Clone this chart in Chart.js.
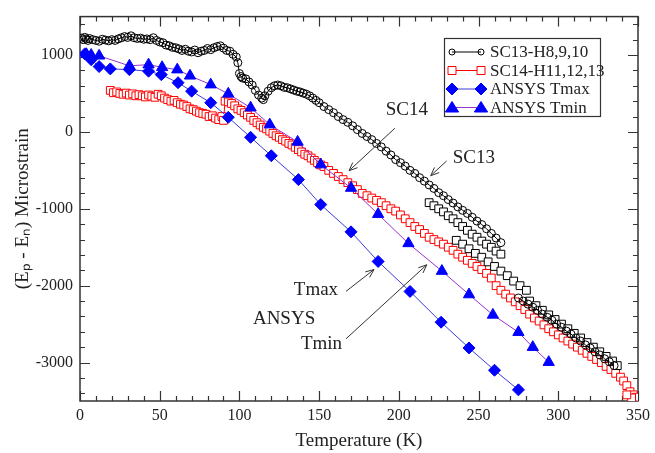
<!DOCTYPE html>
<html lang="en">
<head>
<meta charset="UTF-8">
<title>Strain vs temperature</title>
<script src="https://cdn.jsdelivr.net/npm/chart.js@4"></script>
<style>
  html, body { margin: 0; padding: 0; background: #fff; }
  #wrap { width: 655px; height: 453px; }
</style>
</head>
<body>
<div id="wrap"><canvas id="myChart" width="655" height="453"></canvas></div>
<script>
// ---- data ----
var xTicks = [0, 50, 100, 150, 200, 250, 300, 350];
var yTicks = [-3000, -2000, -1000, 0, 1000];

// SC13-H8,9,10 (open circles), null = gap between sensor runs
var sc13T = [1,2,3,4,5,6,8,10,12,14,16,18,20,22,24,26,28,30,32,34,36,38,40,42,44,46,48,50,52,54,56,58,60,62,64,66,68,70,72,74,76,78,80,82,84,86,88,90,92,94,96,98,
  99,100,101,102,104,106,108,110,112,114,115,116,118,120,122,124,126,128,130,132,134,136,138,140,142,144,146,148,
  150,153,156,159,162,165,168,171,174,177,180,183,186,189,192,195,198,201,204,207,210,213,216,219,222,225,228,231,234,237,240,243,246,249,252,255,258,261,264,
  null,
  275,278,281,284,287,290,293,296,299,302,305,308,311,314,317,320,323,326,329,332,335];
var sc13V = [1220,1200,1230,1210,1190,1215,1200,1190,1180,1205,1195,1185,1200,1190,1210,1225,1240,1230,1250,1225,1215,1220,1205,1210,1200,1225,1190,1170,1160,1130,1120,1100,1095,1080,1060,1075,1050,1040,1065,1030,1050,1060,1085,1070,1095,1110,1120,1090,1060,1050,1010,975,
  900,760,720,700,690,650,610,540,480,440,420,470,530,575,600,610,600,580,575,560,545,530,520,505,490,470,440,410,
  380,330,290,250,200,160,125,80,30,-20,-60,-100,-150,-195,-250,-300,-360,-400,-445,-500,-540,-595,-640,-690,-735,-790,-830,-880,-925,-975,-1020,-1060,-1110,-1160,-1205,-1260,-1320,-1380,-1440,
  null,
  -2160,-2200,-2240,-2280,-2320,-2370,-2410,-2450,-2500,-2540,-2590,-2630,-2680,-2720,-2770,-2810,-2860,-2900,-2950,-2990,-3040];

// black open squares (not in the legend)
var sqT = [219,222,225,228,231,234,237,240,243,246,249,252,255,258,261,264,
  null,
  236,240,244,248,252,256,260,264,268,272,276,280,
  null,
  282,286,290,294,298,302,306,310,314,318,322,326,330,334,337];
var sqV = [-920,-960,-1000,-1040,-1090,-1130,-1180,-1230,-1280,-1330,-1370,-1420,-1460,-1500,-1550,-1590,
  null,
  -1410,-1460,-1520,-1580,-1630,-1690,-1750,-1810,-1870,-1940,-2000,-2060,
  null,
  -2200,-2260,-2320,-2380,-2440,-2500,-2560,-2620,-2680,-2740,-2800,-2860,-2920,-2980,-3040];

// SC14-H11,12,13 (open squares)
var sc14T = [19,21,23,25,27,29,31,33,35,37,39,41,43,45,47,49,51,53,55,57,59,61,63,65,67,69,71,73,75,77,79,81,83,85,87,89,90,
  91,93,95,97,99,101,103,105,107,109,111,113,115,117,119,121,123,125,127,129,131,133,135,137,139,141,143,145,147,149,151,153,156,159,162,165,168,171,174,177,180,183,186,189,192,195,198,201,204,207,210,213,216,219,222,225,228,231,234,237,240,243,246,249,252,255,258,261,264,267,270,273,276,279,282,285,288,291,294,297,300,303,306,309,312,315,318,321,324,327,330,333,336,339,341,343,345,347,349,346,343];
var sc14V = [540,510,520,500,490,505,480,495,470,485,470,455,480,465,450,490,470,440,420,400,410,380,360,350,330,300,290,270,250,240,230,200,210,180,160,200,150,
  400,390,370,340,300,280,250,220,190,150,120,90,60,40,10,-20,-50,-70,-100,-120,-150,-170,-200,-230,-260,-290,-310,-340,-370,-400,-430,-450,-500,-540,-580,-620,-660,-700,-750,-800,-830,-860,-890,-920,-960,-1000,-1030,-1080,-1130,-1180,-1230,-1270,-1320,-1370,-1400,-1430,-1460,-1500,-1540,-1590,-1630,-1670,-1710,-1750,-1790,-1840,-1900,-2000,-2060,-2110,-2160,-2210,-2260,-2310,-2370,-2420,-2460,-2510,-2560,-2600,-2640,-2680,-2720,-2760,-2800,-2840,-2880,-2920,-2960,-3000,-3050,-3090,-3140,-3190,-3240,-3300,-3380,-3420,-3450,-3460,-3420];

// ANSYS Tmax (filled diamonds)
var tmaxT = [3,7,12,19,31,43,51,61.5,70,82,93,107,120,137,151,170,187,207,226.5,244,260,275];
var tmaxV = [1015,940,850,820,810,790,745,640,530,380,190,-70,-310,-620,-945,-1300,-1685,-2075,-2475,-2810,-3100,-3355];

// ANSYS Tmin (filled triangles)
var tminT = [4,7,12,31,43,51.5,61,69,82,93,107,119,136.5,151,170,187,206,227,244,259,275,284,294];
var tminV = [1010,1000,990,860,875,840,810,730,615,495,315,95,-130,-425,-730,-1070,-1450,-1810,-2115,-2380,-2605,-2800,-2995];

// text labels and arrows on the plot (data coordinates)
var notes = [
  { text: 'SC14', x: 205, y: 280 },
  { text: 'SC13', x: 247, y: -338 },
  { text: 'Tmax', x: 148, y: -2060 },
  { text: 'ANSYS', x: 128, y: -2433 },
  { text: 'Tmin', x: 151.5, y: -2754 }
];
var arrows = [
  [197.5, 48, 168.75, -505],
  [230, -377, 220, -569],
  [166.9, -2073, 184.4, -1790],
  [166.9, -2690, 217.5, -1728]
];

function pts(xs, ys) {
  var out = [];
  for (var i = 0; i < xs.length; i++) {
    out.push({ x: xs[i], y: ys[i] });
  }
  return out;
}

var serif = '"Liberation Serif", "Times New Roman", serif';
var ink = '#222';

// markers for the hand drawn legend
function marker(ctx, ds, x, y) {
  var r = ds.legendRadius;
  ctx.save();
  ctx.lineWidth = 1;
  ctx.strokeStyle = ds.pointBorderColor;
  ctx.fillStyle = ds.pointBackgroundColor;
  ctx.beginPath();
  if (ds.pointStyle === 'circle') {
    ctx.arc(x, y, r, 0, Math.PI * 2);
  } else if (ds.pointStyle === 'rect') {
    ctx.rect(x - r, y - r, 2 * r, 2 * r);
  } else if (ds.pointStyle === 'rectRot') {
    ctx.moveTo(x, y - r); ctx.lineTo(x + r, y); ctx.lineTo(x, y + r); ctx.lineTo(x - r, y); ctx.closePath();
  } else {
    ctx.moveTo(x, y - r); ctx.lineTo(x + r * 1.1, y + r * 0.75); ctx.lineTo(x - r * 1.1, y + r * 0.75); ctx.closePath();
  }
  ctx.fill();
  ctx.stroke();
  ctx.restore();
}

// frame with inward major/minor ticks on all four sides, legend box, notes
const decor = {
  id: 'decor',
  beforeDatasetsDraw(chart) {
    const ctx = chart.ctx;
    const a = chart.chartArea;
    const xs = chart.scales.x, ys = chart.scales.y;
    ctx.save();
    ctx.strokeStyle = '#333';
    ctx.lineWidth = 1.5;
    ctx.strokeRect(a.left, a.top, a.right - a.left, a.bottom - a.top);
    ctx.lineWidth = 1.2;
    ctx.beginPath();
    for (let v = xs.min; v <= xs.max; v += 10) {
      const px = Math.round(xs.getPixelForValue(v)) + 0.5;
      const len = v % 50 === 0 ? 10 : 5;
      ctx.moveTo(px, a.bottom); ctx.lineTo(px, a.bottom - len);
      ctx.moveTo(px, a.top); ctx.lineTo(px, a.top + len);
    }
    for (let v = -3400; v <= ys.max; v += 200) {
      const py = Math.round(ys.getPixelForValue(v)) + 0.5;
      const len = v % 1000 === 0 ? 10 : 5;
      ctx.moveTo(a.left, py); ctx.lineTo(a.left + len, py);
      ctx.moveTo(a.right, py); ctx.lineTo(a.right - len, py);
    }
    ctx.stroke();
    ctx.restore();
  },
  afterDraw(chart) {
    const ctx = chart.ctx;
    const xs = chart.scales.x, ys = chart.scales.y;
    ctx.save();

    // notes + arrows
    ctx.fillStyle = ink;
    ctx.font = '19px ' + serif;
    ctx.textAlign = 'center';
    ctx.textBaseline = 'middle';
    notes.forEach(function (n) {
      ctx.fillText(n.text, xs.getPixelForValue(n.x), ys.getPixelForValue(n.y));
    });
    ctx.strokeStyle = '#333';
    ctx.lineWidth = 1;
    arrows.forEach(function (ar) {
      const x1 = xs.getPixelForValue(ar[0]), y1 = ys.getPixelForValue(ar[1]);
      const x2 = xs.getPixelForValue(ar[2]), y2 = ys.getPixelForValue(ar[3]);
      const ang = Math.atan2(y2 - y1, x2 - x1);
      ctx.beginPath();
      ctx.moveTo(x1, y1); ctx.lineTo(x2, y2);
      ctx.moveTo(x2 - 9 * Math.cos(ang - 0.4), y2 - 9 * Math.sin(ang - 0.4));
      ctx.lineTo(x2, y2);
      ctx.lineTo(x2 - 9 * Math.cos(ang + 0.4), y2 - 9 * Math.sin(ang + 0.4));
      ctx.stroke();
    });

    // legend
    const bx = 444, by = 38, bw = 156, bh = 78;
    ctx.fillStyle = '#fff';
    ctx.fillRect(bx, by, bw, bh);
    ctx.strokeStyle = '#333';
    ctx.lineWidth = 1.2;
    ctx.strokeRect(bx + 0.5, by + 0.5, bw, bh);
    ctx.font = '17px ' + serif;
    ctx.textAlign = 'left';
    let row = 0;
    chart.data.datasets.slice().sort(function (p, q) { return p.legendRank - q.legendRank; }).forEach(function (ds) {
      if (!ds.legendRank) return;
      const y = by + 14 + row * 18.5;
      ctx.strokeStyle = ds.borderColor;
      ctx.lineWidth = 1;
      ctx.beginPath();
      ctx.moveTo(452, y); ctx.lineTo(481, y);
      ctx.stroke();
      marker(ctx, ds, 452, y);
      marker(ctx, ds, 481, y);
      ctx.fillStyle = ink;
      ctx.fillText(ds.label, 490, y + 1);
      row++;
    });
    ctx.restore();
  }
};

const chartdata = {
  datasets: [
    {
      label: 'SC13-H8,9,10', legendRank: 1, legendRadius: 3,
      data: pts(sc13T, sc13V), order: 2,
      borderColor: '#000', borderWidth: 1,
      pointStyle: 'circle', pointRadius: 4, pointBorderWidth: 1,
      pointBorderColor: '#000', pointBackgroundColor: 'rgba(255,255,255,0)'
    },
    {
      label: 'SC13 squares', legendRank: 0,
      data: pts(sqT, sqV), order: 3,
      borderColor: '#000', borderWidth: 1,
      pointStyle: 'rect', pointRadius: 5.5, pointBorderWidth: 1,
      pointBorderColor: '#000', pointBackgroundColor: '#fff'
    },
    {
      label: 'SC14-H11,12,13', legendRank: 2, legendRadius: 4,
      data: pts(sc14T, sc14V), order: 4,
      borderColor: '#ff0000', borderWidth: 1,
      pointStyle: 'rect', pointRadius: 5.5, pointBorderWidth: 1,
      pointBorderColor: '#ff0000', pointBackgroundColor: '#fff'
    },
    {
      label: 'ANSYS Tmax', legendRank: 3, legendRadius: 6,
      data: pts(tmaxT, tmaxV), order: 0,
      borderColor: '#3a3ad8', borderWidth: 1,
      pointStyle: 'rectRot', pointRadius: 6, pointBorderWidth: 1,
      pointBorderColor: '#0000ff', pointBackgroundColor: '#0000ff'
    },
    {
      label: 'ANSYS Tmin', legendRank: 4, legendRadius: 6,
      data: pts(tminT, tminV), order: 1,
      borderColor: '#9932cc', borderWidth: 1,
      pointStyle: 'triangle', pointRadius: 6.5, pointBorderWidth: 1,
      pointBorderColor: '#0000ff', pointBackgroundColor: '#0000ff'
    }
  ]
};

const config = {
  type: 'scatter',
  data: chartdata,
  options: {
    responsive: false,
    animation: false,
    devicePixelRatio: 1,
    showLine: true,
    spanGaps: false,
    layout: { padding: { top: 12, right: 15, left: 0, bottom: 0 } },
    plugins: { legend: { display: false }, tooltip: { enabled: false } },
    elements: { line: { tension: 0 } },
    scales: {
      x: {
        type: 'linear', min: 0, max: 350,
        afterBuildTicks: function (s) { s.ticks = xTicks.map(function (v) { return { value: v }; }); },
        afterFit: function (s) { s.height = 52; },
        grid: { display: false, drawTicks: false },
        border: { display: false },
        ticks: { color: ink, font: { family: serif, size: 16 }, padding: 5, maxRotation: 0,
          callback: function (v) { return String(v); } },
        title: { display: true, text: 'Temperature (K)', color: ink, font: { family: serif, size: 19 }, padding: { top: 0, bottom: 1 } }
      },
      y: {
        type: 'linear', min: -3500, max: 1500,
        afterBuildTicks: function (s) { s.ticks = yTicks.map(function (v) { return { value: v }; }); },
        afterFit: function (s) { s.width = 80; },
        grid: { display: false, drawTicks: false },
        border: { display: false },
        ticks: { color: ink, font: { family: serif, size: 16 }, padding: 7,
          callback: function (v) { return String(v); } },
        title: { display: true, text: '(E\u209A - E\u2099) Microstrain', color: ink, font: { family: serif, size: 19 }, padding: { top: 12, bottom: 0 } }
      }
    }
  },
  plugins: [decor]
};

var myChart = new Chart(document.getElementById('myChart'), config);
</script>
</body>
</html>
